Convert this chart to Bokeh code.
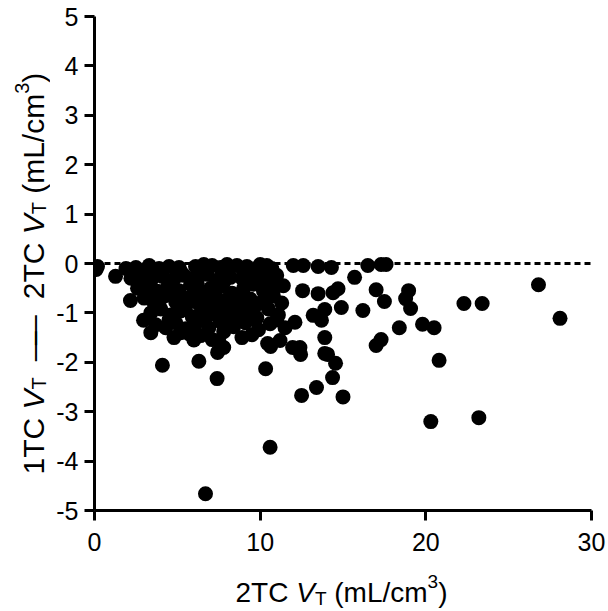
import math
from bokeh.plotting import figure
from bokeh.layouts import row, column
from bokeh.models import Span, FixedTicker
from bokeh.core.properties import value
from bokeh.embed import file_html
from bokeh.resources import INLINE

# 2TC VT (x) and 1TC VT - 2TC VT (y)
vt_2tc = [
    0.18, 0.10, 1.9, 2.5, 3.3, 3.9, 4.5, 5.1, 6.1, 6.6, 7.1, 7.6, 8.0, 8.6, 9.2, 10.0, 10.4, 10.7,
    12.0, 12.6, 13.5, 14.3, 16.5, 17.3, 17.6,
    1.27, 2.2, 2.9, 3.5, 4.1, 4.8, 5.4, 6.0, 6.8, 7.4, 8.2, 8.9, 9.6, 10.3, 11.0, 15.7, 11.4,
    2.6, 3.2, 3.8, 4.4, 5.1, 5.8, 6.4, 7.0, 7.7, 8.3, 9.0, 9.6, 10.2, 10.9, 12.56, 13.5, 14.4, 14.7,
    17.0, 18.96, 26.8,
    2.17, 3.0, 3.6, 4.2, 4.9, 5.6, 6.3, 6.9, 7.5, 8.1, 8.7, 9.4, 10.1, 10.8, 11.3, 17.5, 18.78,
    22.3, 23.4,
    3.4, 4.0, 4.6, 5.2, 5.9, 6.5, 7.2, 7.9, 8.5, 9.2, 9.8, 10.5, 11.1, 13.2, 13.9, 14.9, 16.2,
    19.08, 28.1,
    2.96, 3.7, 4.3, 4.9, 5.5, 6.1, 6.9, 7.6, 8.4, 9.1, 9.9, 10.6, 11.5, 12.1, 18.4, 19.8, 20.5, 13.7,
    3.4, 4.8, 5.7, 6.4, 7.1, 8.9, 9.5, 10.45, 10.63, 11.2, 11.96, 12.4, 13.9, 17.0, 17.3, 7.49, 7.8,
    4.1, 6.3, 7.4, 7.43, 10.33, 12.5, 13.4, 13.9, 14.55, 14.37, 15.0, 20.8, 20.3, 23.2, 10.6, 6.7,
    12.44, 14.07,
    2.8, 4.0, 5.2, 6.4, 7.7, 9.0, 10.2,
    3.0, 4.6, 6.2, 7.8, 9.3, 10.6,
    3.3, 4.8, 6.0, 7.3, 8.8, 10.4,
    3.9, 5.5, 7.0, 8.2, 9.7,
    4.5, 6.6, 8.0, 9.5, 11.0,
    5.2, 7.8, 6.0,
]
vt_diff = [
    -0.06, -0.12, -0.10, -0.08, -0.04, -0.10, -0.06, -0.08, -0.06, -0.02, -0.04, -0.08, -0.02, -0.04, -0.06, -0.02, -0.04, -0.10,
    -0.04, -0.04, -0.06, -0.08, -0.04, -0.02, -0.02,
    -0.26, -0.30, -0.22, -0.30, -0.26, -0.32, -0.24, -0.30, -0.22, -0.34, -0.28, -0.30, -0.22, -0.32, -0.24, -0.28, -0.45,
    -0.50, -0.44, -0.56, -0.48, -0.55, -0.42, -0.58, -0.50, -0.45, -0.60, -0.50, -0.42, -0.56, -0.48, -0.55, -0.61, -0.59, -0.51,
    -0.53, -0.55, -0.43,
    -0.75, -0.70, -0.80, -0.66, -0.78, -0.70, -0.82, -0.68, -0.76, -0.70, -0.84, -0.72, -0.78, -0.66, -0.80, -0.77, -0.71,
    -0.81, -0.81,
    -1.00, -0.92, -1.04, -0.96, -1.08, -0.94, -1.02, -0.90, -1.06, -0.96, -1.10, -0.92, -1.04, -1.05, -0.93, -0.89, -0.95,
    -0.91, -1.11,
    -1.15, -1.24, -1.30, -1.20, -1.32, -1.22, -1.30, -1.18, -1.28, -1.20, -1.34, -1.22, -1.30, -1.19, -1.30, -1.23, -1.30, -1.15,
    -1.40, -1.50, -1.42, -1.46, -1.54, -1.50, -1.44, -1.62, -1.68, -1.56, -1.70, -1.70, -1.50, -1.66, -1.54, -1.56, -1.70,
    -2.06, -1.98, -2.33, -1.80, -2.13, -2.67, -2.51, -1.82, -2.02, -2.31, -2.70, -1.96, -3.20, -3.12, -3.72, -4.66,
    -1.84, -1.84,
    -0.15, -0.18, -0.16, -0.14, -0.18, -0.15, -0.16,
    -0.38, -0.36, -0.40, -0.38, -0.36, -0.40,
    -0.62, -0.64, -0.60, -0.62, -0.66, -0.62,
    -0.86, -0.88, -0.86, -0.88, -0.86,
    -1.14, -1.12, -1.10, -1.12, -1.14,
    -1.40, -1.38, -1.55,
]
x_ticks = [0, 10, 20, 30]
y_ticks = [-5, -4, -3, -2, -1, 0, 1, 2, 3, 4, 5]

FONT = "Liberation Sans"
LS = "28px"   # x axis title size
SS = "19px"   # sub/superscript size
YLS = "30px"  # y axis title size
YSS = "20px"

# ---- main plot ----
p = figure(frame_width=497, frame_height=494, min_border_left=44, min_border_right=15,
           min_border_top=16, min_border_bottom=50,
           x_range=(0, 30), y_range=(-5, 5),
           output_backend="svg", toolbar_location=None)
p.outline_line_color = None
p.xgrid.visible = False
p.ygrid.visible = False

p.xaxis.ticker = FixedTicker(ticks=x_ticks)
p.yaxis.ticker = FixedTicker(ticks=y_ticks)
p.yaxis.major_label_overrides = {t: str(t) for t in y_ticks}
for ax, standoff in ((p.xaxis, 12), (p.yaxis, 6)):
    ax.axis_line_width = 3
    ax.axis_line_color = "black"
    ax.major_tick_line_width = 3
    ax.major_tick_line_color = "black"
    ax.major_tick_out = 10
    ax.major_tick_in = 0
    ax.minor_tick_line_color = None
    ax.major_label_text_font = FONT
    ax.major_label_text_font_size = "25px"
    ax.major_label_text_color = "black"
    ax.major_label_standoff = standoff

p.add_layout(Span(location=0, dimension="width", line_color="black", line_width=3,
                  line_dash="6 4"))

p.scatter(vt_2tc, vt_diff, size=15, fill_color="black", line_color="black", line_width=0)

MAIN_H = 16 + 494 + 50
MAIN_W = 44 + 497 + 15

def blank(w, h):
    f = figure(frame_width=w, frame_height=h, x_range=(0, w), y_range=(0, h),
               min_border=0, x_axis_type=None, y_axis_type=None,
               output_backend="svg", toolbar_location=None)
    f.outline_line_color = None
    f.xgrid.visible = False
    f.ygrid.visible = False
    return f

def put(f, text, x, y, size=LS, italic=False, angle=0.0):
    f.text(x=[x], y=[y], text=[text], angle=angle,
           text_font=value(FONT), text_font_size=value(size),
           text_font_style="italic" if italic else "normal",
           text_color="black", text_align="left", text_baseline="alphabetic")

# ---- y axis title (rotated, reading upward) ----
YW = 50
yt = blank(YW, MAIN_H)
A = math.pi / 2
bx = 33          # baseline position
y0 = MAIN_H - 458
put(yt, "1TC", bx, y0, size=YLS, angle=A)
put(yt, "V", bx, y0 + 65.0, size=YLS, italic=True, angle=A)
put(yt, "T", bx + 5, y0 + 85.0, size=YSS, angle=A)
put(yt, "\u2014", bx, y0 + 113.2, size=YLS, angle=A)
put(yt, "\u2014", bx, y0 + 129.2, size=YLS, angle=A)
put(yt, "2TC", bx, y0 + 175.2, size=YLS, angle=A)
put(yt, "V", bx, y0 + 240.2, size=YLS, italic=True, angle=A)
put(yt, "T", bx + 5, y0 + 260.2, size=YSS, angle=A)
put(yt, "(mL/cm", bx, y0 + 280.7, size=YLS, angle=A)
put(yt, "3", bx - 12, y0 + 380.7, size=YSS, angle=A)
put(yt, ")", bx, y0 + 391.8, size=YLS, angle=A)

# ---- x axis title ----
XH = 48
xt = blank(YW + MAIN_W, XH)
sx = 235
base = 16
put(xt, "2TC", sx, base)
put(xt, "V", sx + 60.7, base, italic=True)
put(xt, "T", sx + 79.4, base - 6, size=SS)
put(xt, "(mL/cm", sx + 98.8, base)
put(xt, "3", sx + 192.1, base + 11, size=SS)
put(xt, ")", sx + 202.7, base)

layout = column(row(yt, p, spacing=0), xt, spacing=0)
open("out.html", "w").write(file_html(layout, INLINE))
